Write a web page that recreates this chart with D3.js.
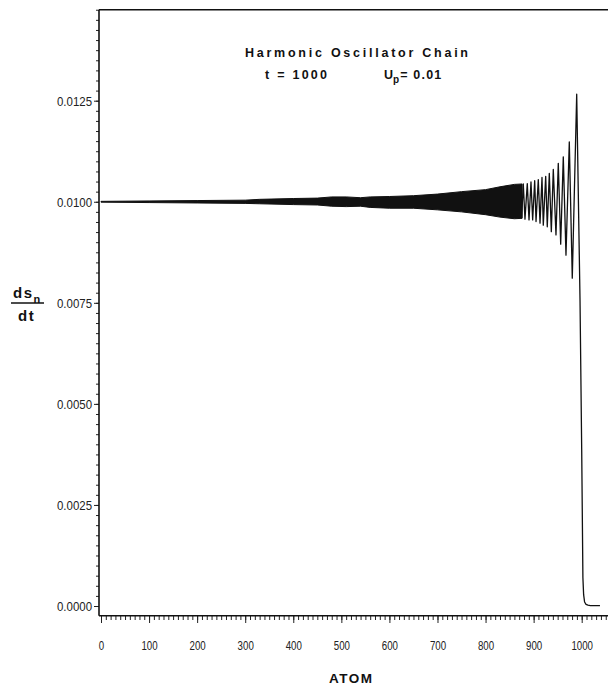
<!DOCTYPE html>
<html>
<head>
<meta charset="utf-8">
<script src="https://cdn.jsdelivr.net/npm/d3@7"></script>
<style>
  html, body { margin: 0; padding: 0; background: #fff; }
  svg { display: block; }
</style>
</head>
<body>
<svg id="chart" width="608" height="686"></svg>
<script>
// ---- data ----
const xMajorTicks = [0, 100, 200, 300, 400, 500, 600, 700, 800, 900, 1000];
const yMajorTicks = [0.0000, 0.0025, 0.0050, 0.0075, 0.0100, 0.0125];
const yTickLabels = ["0.0000", "0.0025", "0.0050", "0.0075", "0.0100", "0.0125"];

// envelope of the dense oscillation band (atoms 0 .. ~875)
const envAtoms = [0, 100, 200, 300, 330, 400, 450, 480, 510, 540, 560, 600, 650, 700, 750, 800, 830, 860, 876];
const envUpper = [0.01001, 0.01002, 0.01003, 0.01004, 0.01006, 0.01008, 0.01009, 0.01012, 0.01012, 0.01010, 0.01012, 0.01013, 0.01015, 0.01019, 0.01025, 0.01030, 0.01037, 0.01043, 0.01044];
const envLower = [0.00999, 0.00998, 0.00997, 0.00996, 0.00995, 0.00993, 0.00992, 0.00989, 0.00988, 0.00989, 0.00986, 0.00984, 0.00984, 0.00980, 0.00975, 0.00968, 0.00962, 0.00958, 0.00959];

// resolved oscillations near the wave front (atom, ds_n/dt)
const frontAtoms = [875, 878.5, 882, 886.8, 890.4, 894.5, 898, 902.2, 905, 909.7, 913.3, 917.4, 920.1, 925.1, 928.4, 932.6, 936.8, 940.9, 946.5, 951.3, 956.3, 961.7, 967.3, 974.2, 980.4, 989.6, 996.5, 1000, 1002.5, 1004, 1006, 1009, 1013, 1018, 1038];
const frontValues = [0.00959, 0.01044, 0.00957, 0.01045, 0.00955, 0.01049, 0.00955, 0.01052, 0.00951, 0.01055, 0.00947, 0.01060, 0.00942, 0.01063, 0.00938, 0.01070, 0.00926, 0.01080, 0.00918, 0.01095, 0.00895, 0.01111, 0.00868, 0.01148, 0.00811, 0.01266, 0.00757, 0.00387, 0.00070, 0.00028, 0.00010, 0.00004, 0.00002, 0.00001, 0.00001];

// ---- scales ----
const x = d3.scaleLinear().domain([0, 1000]).range([101, 581.7]);
const y = d3.scaleLinear().domain([0, 0.0125]).range([606, 100.7]);

const svg = d3.select("#chart");
const xLeft = x.invert(99), xRight = x.invert(608);
const yTop = 0.01475, yBottom = -0.00024;

// ---- plot data ----
const band = envAtoms.map((a, i) => ({a, hi: envUpper[i], lo: envLower[i]}));
svg.append("path")
  .datum(band)
  .attr("d", d3.area().x(d => x(d.a)).y0(d => y(d.lo)).y1(d => y(d.hi)))
  .attr("fill", "#111").attr("stroke", "#111").attr("stroke-width", 1)
  .attr("stroke-linejoin", "round");

const front = frontAtoms.map((a, i) => ({a, v: frontValues[i]}));
svg.append("path")
  .datum(front)
  .attr("d", d3.line().x(d => x(d.a)).y(d => y(d.v)).curve(d3.curveLinear))
  .attr("fill", "none").attr("stroke", "#111").attr("stroke-width", 1.3)
  .attr("stroke-linejoin", "round");

// ---- axes ----
const yMinor = d3.range(0, 0.014751, 0.00025);
const xMinor = d3.range(0, 1051, 10);

const gyMinor = svg.append("g").attr("transform", "translate(99,0)")
  .call(d3.axisLeft(y).tickValues(yMinor).tickSize(3).tickFormat(""));
const gy = svg.append("g").attr("transform", "translate(99,0)")
  .call(d3.axisLeft(y).tickValues(yMajorTicks).tickSize(5).tickPadding(2)
        .tickFormat((d, i) => yTickLabels[i]));
const gxMinor = svg.append("g").attr("transform", "translate(0,616)")
  .call(d3.axisBottom(x).tickValues(xMinor).tickSize(4).tickFormat(""));
const gx = svg.append("g").attr("transform", "translate(0,616)")
  .call(d3.axisBottom(x).tickValues(xMajorTicks).tickSize(7).tickPadding(18)
        .tickFormat(d3.format("d")));

[gyMinor, gy, gxMinor, gx].forEach(g => {
  g.select(".domain").remove();
  g.selectAll("line").attr("stroke", "#222").attr("stroke-width", 1);
});
gy.selectAll("text")
  .attr("font-family", "Liberation Sans, Arial, sans-serif")
  .attr("font-size", 13.5).attr("fill", "#222")
  .attr("textLength", 35).attr("lengthAdjust", "spacingAndGlyphs");
gx.selectAll("text")
  .attr("font-family", "Liberation Sans, Arial, sans-serif")
  .attr("font-size", 12.5).attr("fill", "#222")
  .attr("textLength", d => String(d).length * 5.4).attr("lengthAdjust", "spacingAndGlyphs");

// frame lines: left axis, bottom axis, top border
svg.append("line").attr("x1", 99).attr("x2", 99).attr("y1", y(yTop)).attr("y2", y(yBottom))
  .attr("stroke", "#111").attr("stroke-width", 1.6);
svg.append("line").attr("x1", x(xLeft)).attr("x2", x(xRight)).attr("y1", y(yBottom)).attr("y2", y(yBottom))
  .attr("stroke", "#111").attr("stroke-width", 1.6);
svg.append("line").attr("x1", x(xLeft)).attr("x2", x(xRight)).attr("y1", y(yTop)).attr("y2", y(yTop))
  .attr("stroke", "#111").attr("stroke-width", 1.6);

// ---- titles ----
const font = "Liberation Sans, Arial, Helvetica, sans-serif";
svg.append("text").attr("x", 245).attr("y", 57)
  .attr("font-family", font).attr("font-weight", "bold").attr("font-size", 12.5)
  .attr("textLength", 223).attr("lengthAdjust", "spacing").attr("fill", "#111")
  .text("Harmonic Oscillator Chain");
svg.append("text").attr("x", 265).attr("y", 79)
  .attr("font-family", font).attr("font-weight", "bold").attr("font-size", 12.5)
  .attr("textLength", 62).attr("lengthAdjust", "spacing").attr("fill", "#111")
  .text("t = 1000");
const up = svg.append("text").attr("x", 384).attr("y", 79)
  .attr("font-family", font).attr("font-weight", "bold").attr("font-size", 12.5).attr("fill", "#111");
up.append("tspan").text("U");
up.append("tspan").attr("font-size", 10).attr("dy", 4).text("p");
up.append("tspan").attr("dy", -4).attr("dx", 1).attr("letter-spacing", 1.2).text("= 0.01");

// y-axis label ds_n / dt
const yl = svg.append("text").attr("x", 13).attr("y", 298)
  .attr("font-family", font).attr("font-weight", "bold").attr("font-size", 15).attr("fill", "#111");
yl.append("tspan").attr("letter-spacing", 1.5).text("ds");
yl.append("tspan").attr("font-size", 11).attr("dy", 5).text("n");
svg.append("line").attr("x1", 11).attr("x2", 44).attr("y1", 303).attr("y2", 303)
  .attr("stroke", "#111").attr("stroke-width", 1.4);
svg.append("text").attr("x", 18).attr("y", 321)
  .attr("font-family", font).attr("font-weight", "bold").attr("font-size", 15).attr("fill", "#111")
  .attr("letter-spacing", 1.5).text("dt");

// x-axis label
svg.append("text").attr("x", 329).attr("y", 683)
  .attr("font-family", font).attr("font-weight", "bold").attr("font-size", 13.5).attr("fill", "#111")
  .attr("textLength", 43).attr("lengthAdjust", "spacing").text("ATOM");
</script>
</body>
</html>
